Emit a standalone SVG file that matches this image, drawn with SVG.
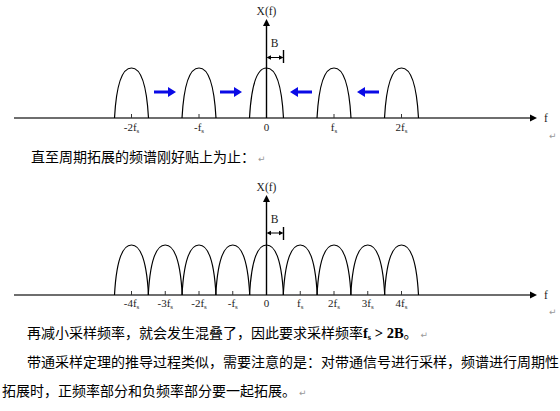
<svg xmlns="http://www.w3.org/2000/svg" width="560" height="411" viewBox="0 0 560 411">
<style>
.ax{stroke:#6e6e6e;stroke-width:2;fill:none}
.vax{stroke:#000;stroke-width:1.4;fill:none}
.lobe{stroke:#000;stroke-width:1.2;fill:none}
.tk{stroke:#333;stroke-width:1}
.lb{font-family:"Liberation Serif",serif;font-size:11px;fill:#222;text-anchor:middle}
.ttl{font-family:"Liberation Serif",serif;font-size:11.5px;fill:#222;text-anchor:middle}
.cn{font-family:"Noto Sans CJK SC",sans-serif;font-size:14px;fill:#000}
.ret{font-family:"DejaVu Sans",sans-serif;font-size:9px;fill:#999}
.blue{fill:#0a0ae6}
</style>
<defs>
<path id="lobe" class="lobe" d="M-17,0 C-15,-36 -9,-50 0,-50 C9,-50 15,-36 17,0"/>
<path id="ah" d="M0,0 L-7,-3.5 L-7,3.5 Z" fill="#000"/>
<path id="barrow" d="M0,0 L-8,-5 L-8,-1.6 L-22,-1.6 L-22,1.6 L-8,1.6 L-8,5 Z"/>
</defs>

<g id="plot1">
<line class="ax" x1="14" y1="118" x2="531" y2="118"/>
<use href="#ah" transform="translate(537,118)"/>
<text class="ttl" x="546" y="122">f</text>
<line class="vax" x1="266.5" y1="118" x2="266.5" y2="26"/>
<use href="#ah" transform="translate(266.5,19) rotate(-90)"/>
<text class="ttl" x="266.5" y="15">X(f)</text>
<g id="lobes1">
<use href="#lobe" transform="translate(131.5,118)"/>
<use href="#lobe" transform="translate(199,118)"/>
<use href="#lobe" transform="translate(266.5,118)"/>
<use href="#lobe" transform="translate(334,118)"/>
<use href="#lobe" transform="translate(401.5,118)"/>
</g>
<g id="ticks1">
<line class="tk" x1="131.5" y1="114" x2="131.5" y2="118"/>
<line class="tk" x1="199" y1="114" x2="199" y2="118"/>
<line class="tk" x1="334" y1="114" x2="334" y2="118"/>
<line class="tk" x1="401.5" y1="114" x2="401.5" y2="118"/>
</g>
<g id="labels1">
<text class="lb" x="131.5" y="131">-2f<tspan font-size="7" dy="1.5">s</tspan></text>
<text class="lb" x="199" y="131">-f<tspan font-size="7" dy="1.5">s</tspan></text>
<text class="lb" x="266.5" y="131">0</text>
<text class="lb" x="334" y="131">f<tspan font-size="7" dy="1.5">s</tspan></text>
<text class="lb" x="401.5" y="131">2f<tspan font-size="7" dy="1.5">s</tspan></text>
</g>
<g id="bw1">
<line class="vax" x1="283.5" y1="50" x2="283.5" y2="63"/>
<line stroke="#000" stroke-width="1" x1="269" y1="57.5" x2="281" y2="57.5"/>
<path d="M266.5,57.5 L271,55.3 L271,59.7 Z M283.5,57.5 L279,55.3 L279,59.7 Z" fill="#000"/>
<text class="ttl" x="274.5" y="47">B</text>
</g>
<g id="shift-arrows" class="blue">
<use href="#barrow" transform="translate(176,92)"/>
<use href="#barrow" transform="translate(242,92)"/>
<use href="#barrow" transform="translate(290,92) rotate(180)"/>
<use href="#barrow" transform="translate(357,92) rotate(180)"/>
</g>
<text class="ret" x="549" y="139" font-size="8">↵</text>
</g>

<text class="cn" x="31" y="162">直至周期拓展的频谱刚好贴上为止：<tspan class="ret" dx="3">↵</tspan></text>

<g id="plot2">
<line class="ax" x1="14" y1="295" x2="531" y2="295"/>
<use href="#ah" transform="translate(537,295)"/>
<text class="ttl" x="546" y="299">f</text>
<line class="vax" x1="266.5" y1="295" x2="266.5" y2="202"/>
<use href="#ah" transform="translate(266.5,195) rotate(-90)"/>
<text class="ttl" x="266.5" y="191">X(f)</text>
<g id="lobes2">
<use href="#lobe" transform="translate(131.5,295)"/>
<use href="#lobe" transform="translate(165.25,295)"/>
<use href="#lobe" transform="translate(199,295)"/>
<use href="#lobe" transform="translate(232.75,295)"/>
<use href="#lobe" transform="translate(266.5,295)"/>
<use href="#lobe" transform="translate(300.25,295)"/>
<use href="#lobe" transform="translate(334,295)"/>
<use href="#lobe" transform="translate(367.75,295)"/>
<use href="#lobe" transform="translate(401.5,295)"/>
</g>
<g id="ticks2">
<line class="tk" x1="131.5" y1="291" x2="131.5" y2="295"/>
<line class="tk" x1="165.25" y1="291" x2="165.25" y2="295"/>
<line class="tk" x1="199" y1="291" x2="199" y2="295"/>
<line class="tk" x1="232.75" y1="291" x2="232.75" y2="295"/>
<line class="tk" x1="300.25" y1="291" x2="300.25" y2="295"/>
<line class="tk" x1="334" y1="291" x2="334" y2="295"/>
<line class="tk" x1="367.75" y1="291" x2="367.75" y2="295"/>
<line class="tk" x1="401.5" y1="291" x2="401.5" y2="295"/>
</g>
<g id="labels2">
<text class="lb" x="131.5" y="307">-4f<tspan font-size="7" dy="1.5">s</tspan></text>
<text class="lb" x="165.25" y="307">-3f<tspan font-size="7" dy="1.5">s</tspan></text>
<text class="lb" x="199" y="307">-2f<tspan font-size="7" dy="1.5">s</tspan></text>
<text class="lb" x="232.75" y="307">-f<tspan font-size="7" dy="1.5">s</tspan></text>
<text class="lb" x="266.5" y="307">0</text>
<text class="lb" x="300.25" y="307">f<tspan font-size="7" dy="1.5">s</tspan></text>
<text class="lb" x="334" y="307">2f<tspan font-size="7" dy="1.5">s</tspan></text>
<text class="lb" x="367.75" y="307">3f<tspan font-size="7" dy="1.5">s</tspan></text>
<text class="lb" x="401.5" y="307">4f<tspan font-size="7" dy="1.5">s</tspan></text>
</g>
<g id="bw2">
<line class="vax" x1="283.5" y1="227" x2="283.5" y2="240"/>
<line stroke="#000" stroke-width="1" x1="269" y1="233" x2="281" y2="233"/>
<path d="M266.5,233 L271,230.8 L271,235.2 Z M283.5,233 L279,230.8 L279,235.2 Z" fill="#000"/>
<text class="ttl" x="274.5" y="223">B</text>
</g>
<text class="ret" x="549" y="315" font-size="8">↵</text>
</g>

<text class="cn" x="27" y="338">再减小采样频率，就会发生混叠了，因此要求采样频率<tspan font-family="Liberation Serif,serif" font-weight="bold" font-size="14.5">f<tspan font-size="8.5" dy="2">s</tspan><tspan dy="-2"> &gt; 2B</tspan></tspan>。<tspan class="ret" dx="3">↵</tspan></text>
<text class="cn" x="27" y="367">带通采样定理的推导过程类似，需要注意的是：对带通信号进行采样，频谱进行周期性</text>
<text class="cn" x="2" y="396">拓展时，正频率部分和负频率部分要一起拓展。<tspan class="ret" dx="3">↵</tspan></text>
</svg>
